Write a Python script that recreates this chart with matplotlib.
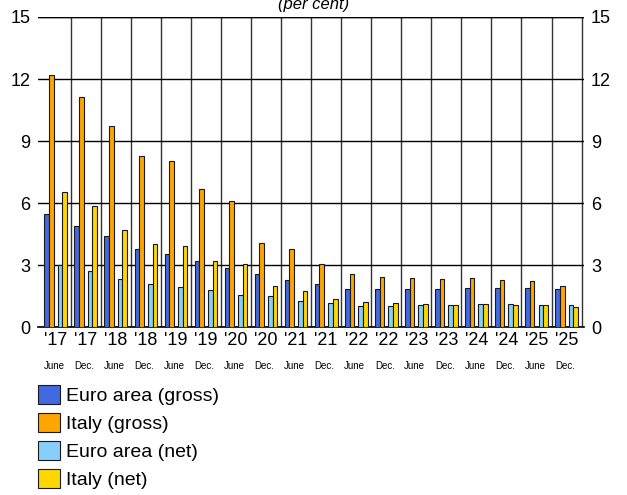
import numpy as np
import matplotlib
matplotlib.use("Agg")
import matplotlib.pyplot as plt
import matplotlib.transforms as mtransforms

plt.rcParams['font.family'] = ['Liberation Sans', 'DejaVu Sans']

years = ["'17", "'17", "'18", "'18", "'19", "'19", "'20", "'20", "'21",
         "'21", "'22", "'22", "'23", "'23", "'24", "'24", "'25", "'25"]
months = ["June", "Dec."] * 9

ea_gross = [5.5, 4.92, 4.41, 3.79, 3.55, 3.2, 2.88, 2.59, 2.3,
            2.1, 1.85, 1.85, 1.86, 1.88, 1.91, 1.93, 1.9, 1.88]
it_gross = [12.2, 11.13, 9.73, 8.27, 8.02, 6.69, 6.11, 4.1, 3.8,
            3.09, 2.57, 2.44, 2.41, 2.35, 2.4, 2.3, 2.25, 1.99]
ea_net = [3.02, 2.73, 2.36, 2.1, 1.96, 1.8, 1.59, 1.5, 1.29,
          1.19, 1.05, 1.06, 1.08, 1.09, 1.12, 1.14, 1.09, 1.1]
it_net = [6.55, 5.85, 4.69, 4.05, 3.94, 3.2, 3.09, 1.99, 1.78,
          1.4, 1.24, 1.16, 1.13, 1.09, 1.12, 1.11, 1.09, 1.01]

series = [
    ("Euro area (gross)", ea_gross, "#4169E1", -0.30),
    ("Italy (gross)", it_gross, "#FFA500", -0.145),
    ("Euro area (net)", ea_net, "#87CEFA", 0.145),
    ("Italy (net)", it_net, "#FFD700", 0.30),
]

fig = plt.figure(figsize=(6.27, 4.95), dpi=100)
ax = fig.add_axes([0.0601, 0.3384, 0.8713, 0.6273])

x = np.arange(len(years))
for label, vals, color, off in series:
    ax.bar(x + off, vals, width=0.155, color=color, edgecolor="#1a1a1a",
           linewidth=0.8, label=label, zorder=3)

ax.set_xlim(-0.6, len(years) - 0.42)
ax.set_ylim(0, 15)
ax.set_yticks(np.arange(0, 16, 3))

# grid: horizontal at y ticks, vertical between periods
ax.set_xticks(x + 0.5, minor=True)
ax.grid(axis="y", color="black", linewidth=1.0, zorder=0)
ax.grid(axis="x", which="minor", color="#333333", linewidth=1.0, zorder=0)
ax.set_axisbelow(True)

ax.set_xticks(x)
ax.set_xticklabels(years, fontsize=13)
ax.tick_params(axis="x", which="both", length=0, pad=3)
ax.tick_params(axis="y", length=0, labelsize=13, pad=5,
               labelright=True, right=False)

for s in ["top", "left", "right"]:
    ax.spines[s].set_visible(False)
ax.spines["bottom"].set_color("black")
ax.spines["bottom"].set_linewidth(1.2)
ax.axhline(15, color="black", linewidth=1.0, zorder=1)

trans = mtransforms.blended_transform_factory(ax.transData, ax.transAxes)
for xi, m in zip(x, months):
    ax.text(xi - 0.05, -0.125, m, transform=trans, ha="center", va="center",
            fontsize=7)

fig.text(0.5, 486 / 495, "(per cent)", ha="center", va="baseline",
         fontsize=12, style="italic")

fig.legend(loc="upper left", bbox_to_anchor=(37.7 / 627, 1 - 385 / 495),
           frameon=False, fontsize=14, borderpad=0, borderaxespad=0,
           handlelength=1.13, handleheight=1.13, handletextpad=0.34,
           labelspacing=0.41)

fig.savefig("out.png", dpi=100)
